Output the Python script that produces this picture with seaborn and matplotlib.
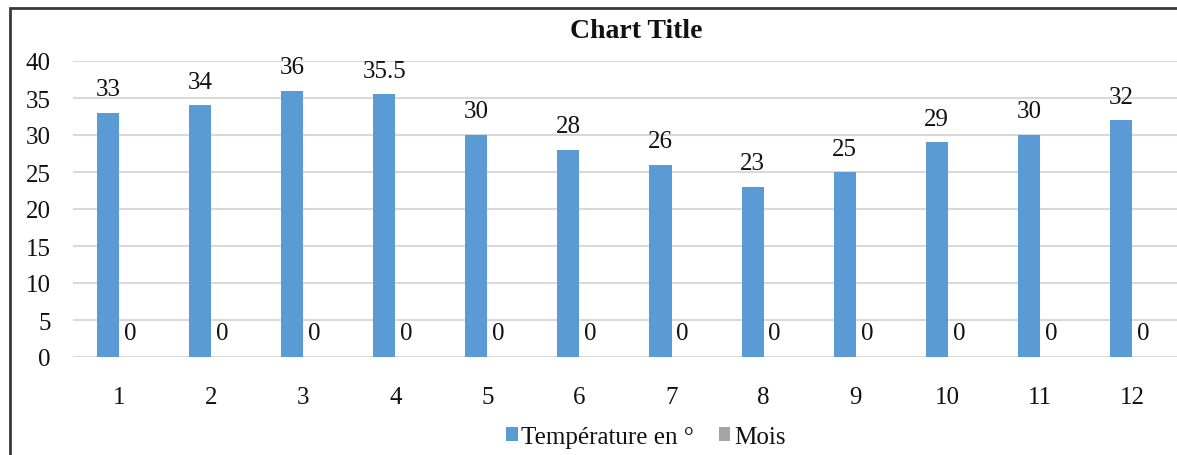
import matplotlib
matplotlib.use("Agg")
import matplotlib.pyplot as plt
import seaborn as sns
import pandas as pd
from matplotlib.patches import Rectangle

# ---- data ----
months = [1, 2, 3, 4, 5, 6, 7, 8, 9, 10, 11, 12]
temperature = [33, 34, 36, 35.5, 30, 28, 26, 23, 25, 29, 30, 32]
mois = [0, 0, 0, 0, 0, 0, 0, 0, 0, 0, 0, 0]
series_names = ["Température en °", "Mois"]
series_colors = ["#5B9BD5", "#A5A5A5"]
y_ticks = [0, 5, 10, 15, 20, 25, 30, 35, 40]
chart_title = "Chart Title"

df = pd.DataFrame({
    "mois": [str(m) for m in months] * 2,
    "serie": [series_names[0]] * len(months) + [series_names[1]] * len(months),
    "valeur": temperature + mois,
})

sns.set_style("white")
plt.rcParams["font.family"] = ["Liberation Serif", "DejaVu Serif"]

W, H = 1177, 456
fig = plt.figure(figsize=(W / 100, H / 100), dpi=100)
ax = fig.add_axes([73 / W, (H - 358) / H, 1105 / W, 296 / H])

sns.barplot(data=df, x="mois", y="valeur", hue="serie",
            palette=series_colors, width=0.48, gap=0, saturation=1,
            linewidth=0, ax=ax, legend=True)

ax.set_xlim(-0.5, len(months) - 0.5)
ax.set_ylim(0, 40)
ax.set_yticks(y_ticks)
ax.set_xlabel("")
ax.set_ylabel("")
for s in ax.spines.values():
    s.set_visible(False)
ax.yaxis.grid(True, color="#D9D9D9", linewidth=1.5)
ax.set_axisbelow(True)
ax.tick_params(axis="both", length=0, labelsize=18, colors="#111111")
ax.tick_params(axis="y", pad=16)
ax.tick_params(axis="x", pad=21)

for cont in ax.containers:
    ax.bar_label(cont, fmt="{:g}", padding=9, fontsize=18, color="#111111")

sns.move_legend(ax, "center", bbox_to_anchor=(646 / W, (H - 438) / H),
                bbox_transform=fig.transFigure, ncol=2, frameon=False,
                title=None, fontsize=18, handlelength=0.45, handleheight=0.45,
                handletextpad=0.15, columnspacing=1.0)
for t in ax.get_legend().get_texts():
    t.set_color("#111111")

fig.text(636 / W, (H - 32) / H, chart_title, ha="center", va="center",
         fontsize=20, fontweight="bold", color="#111111")

fig.add_artist(Rectangle((10 / W, -0.5), 2, 0.5 + (H - 9) / H,
                         transform=fig.transFigure, fill=False,
                         edgecolor="#3a3a3a", linewidth=2))

fig.savefig("out.png", dpi=100)
